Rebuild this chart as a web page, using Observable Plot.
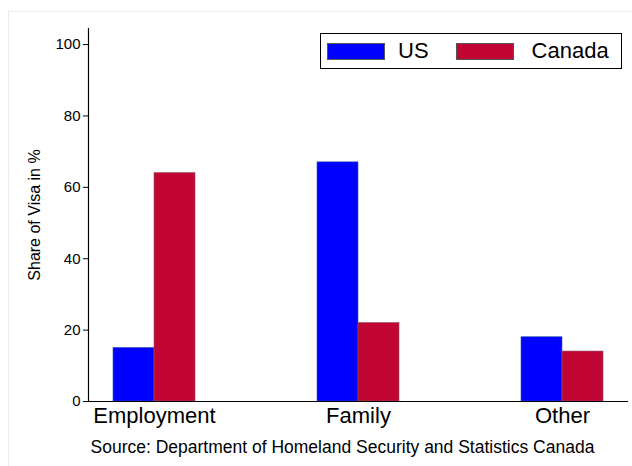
<!DOCTYPE html>
<html>
<head>
<meta charset="utf-8">
<script src="https://cdn.jsdelivr.net/npm/d3@7"></script>
<script src="https://cdn.jsdelivr.net/npm/@observablehq/plot@0.6"></script>
<style>
  html, body { margin: 0; padding: 0; background: #fff; }
  #wrap { position: relative; width: 632px; height: 466px; overflow: hidden; background: #fff;
          font-family: "Liberation Sans", Arial, sans-serif; }
  #border { position: absolute; left: 8px; top: 11px; width: 640px; height: 470px;
            border-left: 1px solid #e4eeef; border-top: 1px solid #e4eeef; }
  #legend { position: absolute; left: 320px; top: 33px; width: 300px; height: 34px;
            border: 1px solid #000; background: #fff; display: flex; align-items: center;
            font-size: 22px; color: #000; }
  .sw { display: inline-block; width: 58px; height: 17px; box-sizing: border-box; border: 1px solid #555; }
</style>
</head>
<body>
<div id="wrap">
  <div id="border"></div>
  <div id="chart"></div>
  <div id="legend"></div>
</div>
<script>
const categories = ["Employment", "Family", "Other"];
const us = [15, 67, 18];
const canada = [64, 22, 14];
const series = ["US", "Canada"];
const colors = ["#0000ff", "#c10534"];
const yTicks = [0, 20, 40, 60, 80, 100];
const yLabel = "Share of Visa in %";
const caption = "Source: Department of Homeland Security and Statistics Canada";

const data = categories.map((c, i) => ({category: c, US: us[i], Canada: canada[i]}));

const chart = Plot.plot({
  width: 632,
  height: 466,
  marginTop: 28,
  marginBottom: 65,
  marginLeft: 88,
  marginRight: 4,
  style: {fontFamily: '"Liberation Sans", Arial, sans-serif', background: "transparent", color: "#000"},
  x: {domain: categories, paddingInner: 0.598, paddingOuter: 0.1225, axis: null},
  y: {domain: [0, 104.5], axis: null},
  marks: [
    Plot.barY(data, {x: "category", y: "US", fill: colors[0], stroke: "#3b55a8", strokeWidth: 0.6, insetRight: 41}),
    Plot.barY(data, {x: "category", y: "Canada", fill: colors[1], stroke: "#8c5a66", strokeWidth: 0.6, insetLeft: 41}),
    Plot.ruleY([0], {stroke: "#000", strokeWidth: 1.2}),
    Plot.frame({anchor: "left", stroke: "#000", strokeWidth: 1.2}),
    Plot.axisY({ticks: yTicks, tickSize: 5, tickPadding: 3, fontSize: 15, label: null, tickFormat: d => String(d)}),
    Plot.axisX({tickSize: 0, tickPadding: 6, fontSize: 22, label: null}),
    Plot.text([yLabel], {frameAnchor: "left", textAnchor: "middle", rotate: -90, dx: -54, fontSize: 16, fill: "#000"}),
    Plot.text([caption], {frameAnchor: "bottom-left", dx: 2, dy: 51, fontSize: 17.5, textAnchor: "start", fill: "#000"})
  ]
});
document.getElementById("chart").appendChild(chart);

const legend = document.getElementById("legend");
const gaps = [[6, 13], [27, 18]];
series.forEach((s, i) => {
  const sw = document.createElement("span");
  sw.className = "sw";
  sw.style.background = colors[i];
  sw.style.marginLeft = gaps[i][0] + "px";
  legend.appendChild(sw);
  const t = document.createElement("span");
  t.textContent = s;
  t.style.marginLeft = gaps[i][1] + "px";
  legend.appendChild(t);
});
</script>
</body>
</html>
